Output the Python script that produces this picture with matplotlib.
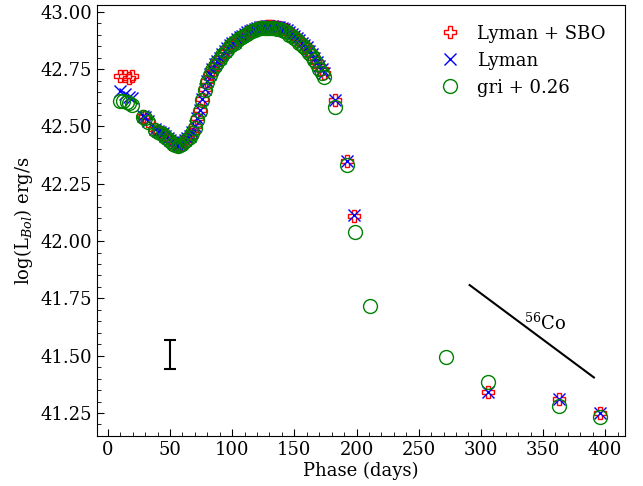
import numpy as np
import matplotlib
matplotlib.use('Agg')
import matplotlib.pyplot as plt
from matplotlib.ticker import MultipleLocator

plt.rcParams['font.family'] = 'DejaVu Serif'
plt.rcParams['mathtext.fontset'] = 'dejavuserif'

# Phase (days) sampled in the bolometric light curve
phase = [10, 14, 17, 19,
         28, 30, 32, 38, 40, 42, 44, 46, 48, 50, 52, 54, 56, 58, 60, 62, 64,
         66, 68, 70, 72, 74, 76, 78, 80, 82, 84, 86, 88, 90, 92, 94, 96, 98,
         100, 102, 104, 106, 108, 110, 112, 114, 116, 118, 120, 122, 124, 126,
         128, 130, 132, 134, 136, 138, 140, 142, 144, 146, 148, 150, 152, 154,
         156, 158, 160, 162, 164, 166, 168, 170, 172, 174,
         183, 192, 198, 306, 363, 396]

lyman = [42.655, 42.64, 42.63, 42.625,
         42.545, 42.54, 42.525, 42.49, 42.48, 42.475, 42.47, 42.46, 42.45, 42.44, 42.43, 42.425, 42.42, 42.425, 42.43, 42.44, 42.45,
         42.46, 42.475, 42.50, 42.535, 42.57, 42.62, 42.665, 42.70, 42.73, 42.75, 42.77, 42.785, 42.80, 42.815, 42.83, 42.84, 42.855,
         42.865, 42.87, 42.88, 42.89, 42.895, 42.905, 42.91, 42.915, 42.92, 42.925, 42.93, 42.932, 42.934, 42.935,
         42.936, 42.936, 42.936, 42.935, 42.935, 42.933, 42.93, 42.925, 42.92, 42.91, 42.905, 42.895, 42.885, 42.875,
         42.865, 42.855, 42.845, 42.83, 42.815, 42.80, 42.78, 42.765, 42.75, 42.735,
         42.615, 42.35, 42.115, 41.34, 41.31, 41.25]

sbo = [42.72, 42.72, 42.71, 42.72,
       42.545, 42.54, 42.525, 42.49, 42.48, 42.475, 42.47, 42.46, 42.45, 42.44, 42.43, 42.425, 42.42, 42.425, 42.43, 42.44, 42.45,
       42.46, 42.475, 42.50, 42.535, 42.57, 42.62, 42.665, 42.70, 42.73, 42.75, 42.77, 42.785, 42.80, 42.815, 42.83, 42.84, 42.855,
       42.865, 42.87, 42.88, 42.89, 42.895, 42.905, 42.91, 42.915, 42.92, 42.925, 42.93, 42.932, 42.934, 42.935,
       42.936, 42.936, 42.936, 42.935, 42.935, 42.933, 42.93, 42.925, 42.92, 42.91, 42.905, 42.895, 42.885, 42.875,
       42.865, 42.855, 42.845, 42.83, 42.815, 42.80, 42.78, 42.765, 42.75, 42.735,
       42.615, 42.35, 42.11, 41.34, 41.31, 41.25]

# gri photometry (+0.26 offset), extra late epochs
phase_gri = [10, 12, 15, 17, 19,
             28, 30, 32, 38, 40, 42, 44, 46, 48, 50, 52, 54, 56, 58, 60, 62, 64,
             66, 68, 70, 72, 74, 76, 78, 80, 82, 84, 86, 88, 90, 92, 94, 96, 98,
             100, 102, 104, 106, 108, 110, 112, 114, 116, 118, 120, 122, 124, 126,
             128, 130, 132, 134, 136, 138, 140, 142, 144, 146, 148, 150, 152, 154,
             156, 158, 160, 162, 164, 166, 168, 170, 172, 174,
             183, 192, 199, 211, 272, 306, 363, 396]

gri = [42.61, 42.61, 42.605, 42.60, 42.595,
       42.54, 42.535, 42.52, 42.485, 42.475, 42.47, 42.465, 42.455, 42.445, 42.435, 42.425, 42.42, 42.415, 42.42, 42.425, 42.435, 42.445,
       42.455, 42.47, 42.495, 42.53, 42.565, 42.615, 42.66, 42.695, 42.725, 42.745, 42.765, 42.78, 42.795, 42.81, 42.825, 42.835, 42.85,
       42.86, 42.865, 42.875, 42.885, 42.89, 42.90, 42.905, 42.91, 42.915, 42.92, 42.925, 42.927, 42.929, 42.93,
       42.93, 42.93, 42.93, 42.928, 42.926, 42.924, 42.92, 42.915, 42.91, 42.90, 42.895, 42.885, 42.875, 42.865,
       42.855, 42.845, 42.835, 42.82, 42.805, 42.79, 42.77, 42.75, 42.735, 42.715,
       42.585, 42.33, 42.04, 41.715, 41.495, 41.385, 41.28, 41.232]

# typical error bar and 56Co decay slope
err_x, err_y, err_size = 50, 41.506, 0.062
co_x = [291, 391]
co_y = [41.808, 41.405]

fig = plt.figure(figsize=(6.43, 4.86), dpi=100)
ax = fig.add_axes([0.151, 0.103, 0.821, 0.887])

ax.plot(phase, sbo, 'P', mfc='none', mec='r', ms=9, mew=1.0, ls='none', label='Lyman + SBO')
ax.plot(phase, lyman, 'x', color='b', ms=8, mew=1.0, ls='none', label='Lyman')
ax.plot(phase_gri, gri, 'o', mfc='none', mec='g', ms=10, mew=1.0, ls='none', label='gri + 0.26')

ax.errorbar(err_x, err_y, yerr=err_size, color='k', capsize=4, elinewidth=1.5, capthick=1.5)
ax.plot(co_x, co_y, 'k-', lw=1.5)
ax.text(352, 41.64, r'$^{56}$Co', fontsize=13, ha='center', va='center')

ax.set_xlim(-8.7, 416)
ax.set_ylim(41.15, 43.03)
ax.xaxis.set_major_locator(MultipleLocator(50))
ax.xaxis.set_minor_locator(MultipleLocator(10))
ax.yaxis.set_major_locator(MultipleLocator(0.25))
ax.yaxis.set_minor_locator(MultipleLocator(0.05))
ax.tick_params(which='both', direction='in', labelsize=13)
ax.tick_params(which='major', length=5)
ax.tick_params(which='minor', length=3)

ax.set_xlabel('Phase (days)', fontsize=13, labelpad=2)
ax.set_ylabel(r'log(L$_{Bol}$) erg/s', fontsize=13)
ax.legend(loc='upper right', frameon=False, fontsize=13, numpoints=1,
          handletextpad=0.5, borderaxespad=0.7)

fig.savefig('out.png', dpi=100)
